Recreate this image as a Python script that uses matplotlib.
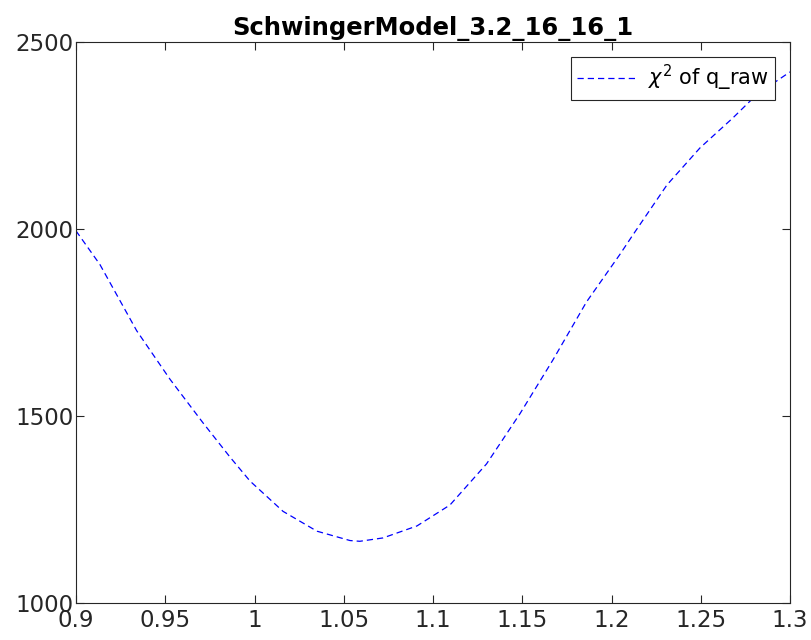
import matplotlib
matplotlib.use("Agg")
import matplotlib.pyplot as plt

plt.rcParams["mathtext.fontset"] = "dejavusans"

# chi^2 of q_raw against the scan parameter
beta = [0.900, 0.9134, 0.934, 0.9527, 0.9711, 0.9863, 0.9975, 1.016, 1.035,
        1.0535, 1.059, 1.072, 1.091, 1.1095, 1.13, 1.1487, 1.1672, 1.186,
        1.2047, 1.2121, 1.2311, 1.2496, 1.268, 1.2815, 1.300]
chi2 = [1995, 1905, 1728, 1598, 1482, 1390, 1326, 1245, 1192,
        1167, 1165, 1174, 1206, 1262, 1372, 1506, 1650, 1805,
        1932, 1985, 2118, 2217, 2297, 2360, 2420]

xticks = [0.9, 0.95, 1, 1.05, 1.1, 1.15, 1.2, 1.25, 1.3]
xtick_labels = ["0.9", "0.95", "1", "1.05", "1.1", "1.15", "1.2", "1.25", "1.3"]
yticks = [1000, 1500, 2000, 2500]

axis_grey = "#262626"

fig = plt.figure(figsize=(8.11, 6.40), dpi=100)
ax = fig.add_axes([76 / 811, 37 / 640, 714 / 811, 561 / 640])

ax.plot(beta, chi2, linestyle="--", color="blue", linewidth=0.9,
        dashes=(5, 3.2), label=r"$\chi^2$ of q_raw")

ax.set_xlim(0.9, 1.3)
ax.set_ylim(1000, 2500)
ax.set_xticks(xticks)
ax.set_xticklabels(xtick_labels)
ax.set_yticks(yticks)
ax.tick_params(direction="in", length=6, width=0.8, top=True, right=True,
               labeltop=False, labelright=False,
               labelsize=16.5, colors=axis_grey, pad=2)
ax.tick_params(axis="x", pad=4)
for spine in ax.spines.values():
    spine.set_color(axis_grey)
    spine.set_linewidth(0.8)

ax.set_title("SchwingerModel_3.2_16_16_1", fontsize=17.5, fontweight="bold",
             pad=5)

# opaque legend box hides the curve where they cross
leg = ax.legend(loc="upper right", fontsize=15, frameon=True, fancybox=False,
                framealpha=1, edgecolor=axis_grey, handlelength=2.9,
                handletextpad=0.5, borderaxespad=0.72, borderpad=0.3)
leg.get_frame().set_linewidth(0.8)

fig.savefig("out.png", dpi=100)
